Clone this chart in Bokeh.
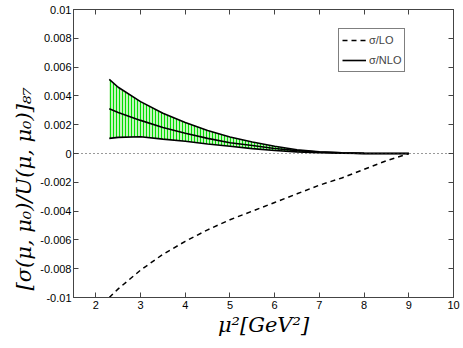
from bokeh.plotting import figure
from bokeh.models import (Range1d, LinearAxis, FixedTicker, Span, Legend, LegendItem,
                          CustomLabelingPolicy, Title)
from bokeh.embed import file_html
from bokeh.resources import INLINE

# ---- data ----
mu2 = [2.3, 2.5, 3.0, 3.5, 4.0, 4.5, 5.0, 5.5, 6.0, 6.5, 7.0, 7.5, 8.0, 8.5, 9.0]
nlo_upper = [0.00515, 0.00460, 0.00360, 0.00280, 0.00215, 0.00160, 0.00115, 0.00080,
             0.00050, 0.00026, 0.00011, 0.00004, 0.00001, 0.0, 0.0]
nlo_mid = [0.00310, 0.00285, 0.00230, 0.00180, 0.00140, 0.00105, 0.00075, 0.00055,
           0.00035, 0.00020, 0.00010, 0.00004, 0.00001, 0.0, 0.0]
nlo_lower = [0.00105, 0.00112, 0.00116, 0.00100, 0.00085, 0.00066, 0.00050, 0.00034,
             0.00021, 0.00011, 0.00005, 0.00002, 0.0, 0.0, 0.0]
lo = [-0.0100, -0.0094, -0.0081, -0.0070, -0.0061, -0.0053, -0.0046, -0.0040,
      -0.0034, -0.0028, -0.0022, -0.0017, -0.0011, -0.0005, 0.0]

x_ticks = [2, 3, 4, 5, 6, 7, 8, 9, 10]
y_ticks = [-0.01, -0.008, -0.006, -0.004, -0.002, 0.0, 0.002, 0.004, 0.006, 0.008, 0.01]
y_tick_labels = ["-0.01", "-0.008", "-0.006", "-0.004", "-0.002", "0",
                 "0.002", "0.004", "0.006", "0.008", "0.01"]
series_labels = ["\u03c3/LO", "\u03c3/NLO"]
x_label = "\u03bc\u00b2[GeV\u00b2]"
y_label = "[\u03c3(\u03bc, \u03bc\u2080)/U(\u03bc, \u03bc\u2080)]\u2088\u2087"

AX = "#444444"

p = figure(width=460, height=345, output_backend="svg", toolbar_location=None,
           x_range=Range1d(1.5, 10), y_range=Range1d(-0.01, 0.01),
           min_border_left=73, min_border_right=7, min_border_top=9, min_border_bottom=48)
p.background_fill_color = "white"
p.border_fill_color = "white"
p.outline_line_color = AX
p.xgrid.visible = False
p.ygrid.visible = False

no_labels = CustomLabelingPolicy(
    code="const n = indices.size; for (let i = 0; i < n; i++) indices.unset(i); return indices")

def style_axis(ax, labels=True):
    ax.axis_line_color = AX
    ax.major_tick_line_color = AX
    ax.minor_tick_line_color = None
    ax.major_tick_in = 5
    ax.major_tick_out = 0
    ax.major_label_text_font = "Liberation Sans"
    ax.major_label_text_color = "black"
    if labels:
        ax.major_label_text_font_size = "11px"
        ax.major_label_standoff = 3
    else:
        ax.major_label_text_font_size = "1px"
        ax.major_label_standoff = 0
        ax.major_label_policy = no_labels

xa = p.xaxis[0]
ya = p.yaxis[0]
xa.ticker = FixedTicker(ticks=x_ticks)
ya.ticker = FixedTicker(ticks=y_ticks)
ya.major_label_overrides = {t: l for t, l in zip(y_ticks, y_tick_labels)}
style_axis(xa)
style_axis(ya)
ya.major_label_standoff = 2
xa.axis_label = x_label
xa.axis_label_text_font = "DejaVu Serif"
xa.axis_label_text_font_style = "italic"
xa.axis_label_text_font_size = "21px"
xa.axis_label_text_color = "black"
xa.axis_label_standoff = 1

# y label as a left-side title so it can sit where the reference puts it
p.add_layout(Title(text=y_label, align="left", offset=7, standoff=4,
                   text_font="DejaVu Serif", text_font_style="italic",
                   text_font_size="21px", text_color="black"), "left")

top = LinearAxis(ticker=FixedTicker(ticks=x_ticks))
style_axis(top, labels=False)
p.add_layout(top, "above")
right = LinearAxis(ticker=FixedTicker(ticks=y_ticks))
style_axis(right, labels=False)
p.add_layout(right, "right")

# zero line
p.add_layout(Span(location=0, dimension="width", line_color="#333333",
                  line_dash="1 3", line_width=1))

# NLO band
p.varea(x=mu2, y1=nlo_lower, y2=nlo_upper, fill_color="#c4f5bc",
        hatch_pattern="vertical_line", hatch_color="#00dd00",
        hatch_scale=3, hatch_weight=1)
p.line(mu2, nlo_upper, line_color="black", line_width=1.6)
p.line(mu2, nlo_lower, line_color="black", line_width=1.6)
r_nlo = p.line(mu2, nlo_mid, line_color="black", line_width=1.6)
r_lo = p.line(mu2, lo, line_color="black", line_width=1.5, line_dash="5 4")

legend = Legend(items=[LegendItem(label=series_labels[0], renderers=[r_lo]),
                       LegendItem(label=series_labels[1], renderers=[r_nlo])],
                location=(265, 225))
legend.border_line_color = "black"
legend.border_line_width = 1
legend.background_fill_alpha = 1
legend.label_text_font = "Liberation Sans"
legend.label_text_font_size = "11px"
legend.glyph_width = 24
legend.glyph_height = 16
legend.label_height = 16
legend.label_standoff = 3
legend.spacing = 4
legend.padding = 3
legend.margin = 0
p.add_layout(legend, "center")

open("out.html", "w").write(file_html(p, INLINE))
